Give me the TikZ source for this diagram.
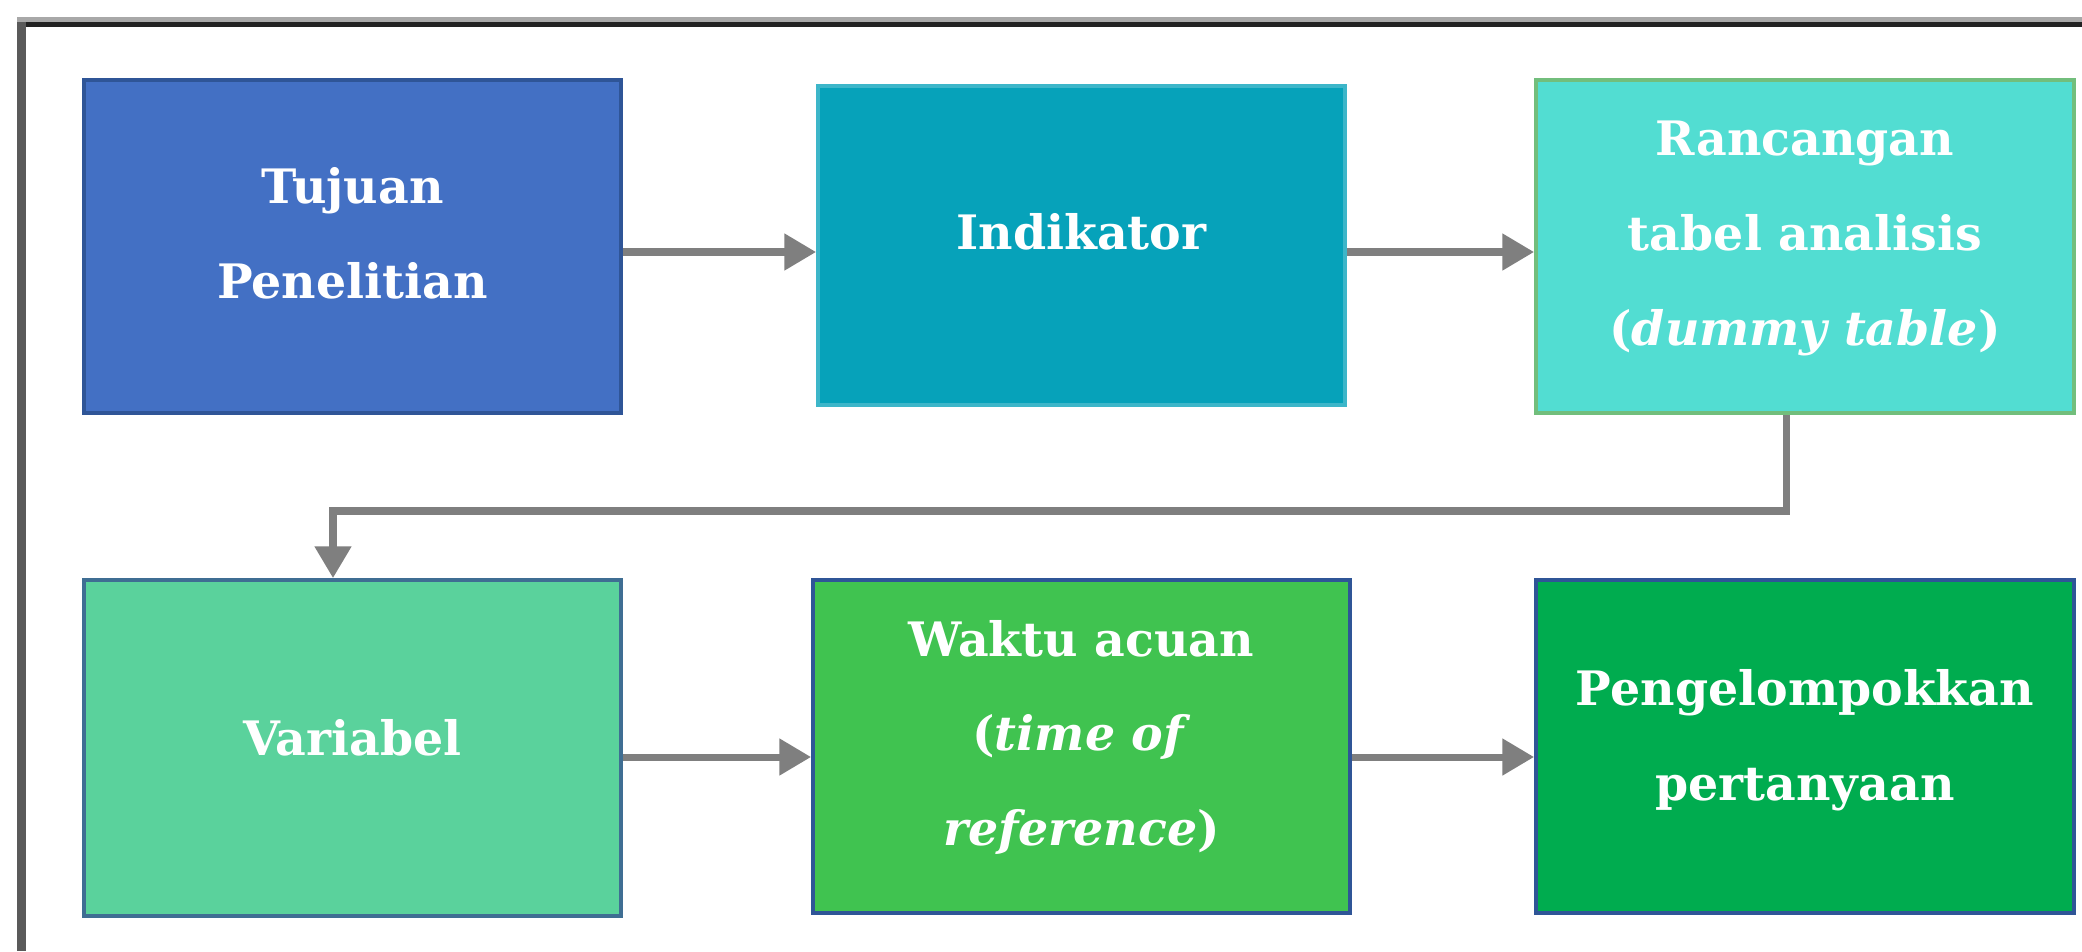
\documentclass[tikz,border=0pt]{standalone}
\usepackage{fontspec}
\setmainfont{DejaVu Serif}
\usetikzlibrary{arrows.meta}
\definecolor{arrowgray}{HTML}{7F7F7F}
\definecolor{framegray}{HTML}{A8A8A8}
\definecolor{frameblack}{HTML}{222222}
\definecolor{frameleft}{HTML}{5A5A5A}
\definecolor{tujfill}{HTML}{4370C4}
\definecolor{darkblue}{HTML}{2F5597}
\definecolor{indfill}{HTML}{06A2BA}
\definecolor{indline}{HTML}{3DB6C9}
\definecolor{ranfill}{HTML}{52DDD2}
\definecolor{ranline}{HTML}{72BE7C}
\definecolor{varfill}{HTML}{5AD29C}
\definecolor{varline}{HTML}{3F6E93}
\definecolor{wakfill}{HTML}{40C350}
\definecolor{pengfill}{HTML}{00AC4F}
\begin{document}
\begin{tikzpicture}[x=0.1mm,y=-0.1mm,
  box/.style={rectangle, line width=1.1pt, minimum width=53.7mm, minimum height=33.3mm, inner sep=0pt},
  lbl/.style={text=white, font=\bfseries\fontsize{13.5}{27}\selectfont, align=center, inner sep=0pt},
  conn/.style={draw=arrowgray, line width=2pt, -{Triangle[length=9pt,width=10pt]}}]
\useasboundingbox[fill=white] (0,0) rectangle (2082,951);
% frame
\fill[framegray] (17,17) rectangle (2082,22);
\fill[frameblack] (17,22) rectangle (2082,27);
\fill[frameleft] (17,22) rectangle (26,951);
% boxes
\node[box, fill=tujfill, draw=darkblue] (tuj) at (352.5,246.5) {};
\node[box, fill=indfill, draw=indline, minimum width=52.7mm, minimum height=31.9mm] (ind) at (1081.5,245.5) {};
\node[box, fill=ranfill, draw=ranline, minimum width=53.8mm] (ran) at (1805,246.5) {};
\node[box, fill=varfill, draw=varline, minimum height=33.6mm] (var) at (352.5,748) {};
\node[box, fill=wakfill, draw=darkblue] (wak) at (1081.5,746.5) {};
\node[box, fill=pengfill, draw=darkblue, minimum width=53.8mm] (peng) at (1805,746.5) {};
% labels
\node[lbl] (tujt) at ([yshift=3.8pt]tuj.center) {Tujuan\\Penelitian};
\node[lbl] (indt) at ([yshift=3.8pt]ind.center) {Indikator};
\node[lbl] (rant) at ([yshift=2.3pt]ran.center) {Rancangan\\tabel analisis\\(\textit{dummy table})};
\node[lbl] (vart) at ([yshift=3pt]var.center) {Variabel};
\node[lbl] (wakt) at ([yshift=2.6pt]wak.center) {Waktu acuan\\(\textit{time of}\\\textit{reference})};
\node[lbl] (pengt) at ([yshift=1.9pt]peng.center) {Pengelompokkan\\pertanyaan};
% connectors
\coordinate (r1) at (0,252);
\coordinate (r2) at (0,757);
\coordinate (b1) at (1786,511);
\coordinate (b2) at (333,511);
\draw[conn] (tuj.east |- r1) -- (ind.west |- r1);
\draw[conn] (ind.east |- r1) -- (ran.west |- r1);
\draw[conn] (ran.south -| b1) -- (b1) -- (b2) -- (var.north -| b2);
\draw[conn] (var.east |- r2) -- (wak.west |- r2);
\draw[conn] (wak.east |- r2) -- (peng.west |- r2);
\end{tikzpicture}
\end{document}
